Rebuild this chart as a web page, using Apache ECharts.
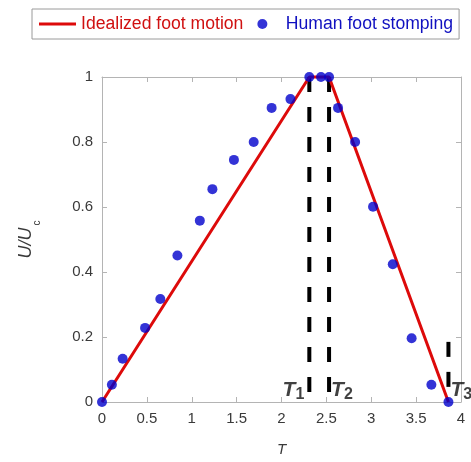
<!DOCTYPE html>
<html>
<head>
<meta charset="utf-8">
<script src="https://cdn.jsdelivr.net/npm/echarts@6/dist/echarts.min.js"></script>
<style>
  html, body { margin: 0; padding: 0; background: #fff; }
  #chart { width: 471px; height: 462px; }
</style>
</head>
<body>
<div id="chart"></div>
<script>
// measured stomping data (T, U/Uc)
var stompT = [0, 0.11, 0.23, 0.48, 0.65, 0.84, 1.09, 1.23, 1.47, 1.69, 1.89, 2.1, 2.31, 2.44, 2.53, 2.63, 2.82, 3.02, 3.24, 3.45, 3.67, 3.86];
var stompU = [0, 0.053, 0.133, 0.228, 0.317, 0.451, 0.558, 0.655, 0.745, 0.8, 0.905, 0.932, 1, 1, 1, 0.905, 0.8, 0.601, 0.424, 0.196, 0.053, 0];

// idealized trapezoid
var idealT = [0, 2.31, 2.53, 3.86];
var idealU = [0, 1, 1, 0];

// phase markers T1, T2, T3 (dashed lines from top value down to 0)
var phaseNames = ['1', '2', '3'];
var phaseT = [2.31, 2.53, 3.86];
var phaseTop = [1, 1, 0.185];

var xTicks = [0, 0.5, 1, 1.5, 2, 2.5, 3, 3.5, 4];
var yTicks = [0, 0.2, 0.4, 0.6, 0.8, 1];

var frameColor = '#b4b4b4';
var labelColor = '#3a3a3a';

function zip(a, b) {
  var out = [];
  for (var i = 0; i < a.length; i++) {
    out.push([a[i], b[i]]);
  }
  return out;
}

var chart = echarts.init(document.getElementById('chart'));

var series = [];

// dashed phase lines
for (var i = 0; i < phaseT.length; i++) {
  series.push({
    name: 'phase' + i,
    type: 'line',
    symbol: 'none',
    silent: true,
    clip: false,
    data: [[phaseT[i], phaseTop[i]], [phaseT[i], 0]],
    lineStyle: {
      color: '#000',
      width: 4,
      type: [15, 15],
      cap: 'butt'
    },
    z: 2
  });
}

series.push({
  name: 'Idealized foot motion',
  type: 'line',
  symbol: 'none',
  clip: false,
  data: zip(idealT, idealU),
  lineStyle: {
    color: '#dd0a0a',
    width: 3
  },
  itemStyle: { color: '#dd0a0a' },
  z: 3
});

series.push({
  name: 'Human foot stomping',
  type: 'scatter',
  symbol: 'circle',
  symbolSize: 10,
  clip: false,
  data: zip(stompT, stompU),
  itemStyle: { color: '#0000cc' },
  z: 4
});

// T1 / T2 / T3 labels
var labelData = [];
for (var j = 0; j < phaseT.length; j++) {
  labelData.push({
    value: [phaseT[j], 0],
    name: phaseNames[j],
    label: {
      position: j === 0 ? 'left' : 'right',
      distance: j === 0 ? 5 : 2
    }
  });
}
series.push({
  name: 'phaseLabels',
  type: 'scatter',
  symbolSize: 0,
  silent: true,
  clip: false,
  data: labelData,
  label: {
    show: true,
    offset: [0, -12],
    formatter: function (p) {
      return '{t|T}{s|' + p.name + '}';
    },
    rich: {
      t: {
        fontFamily: 'Liberation Sans, Arial',
        fontSize: 21,
        fontWeight: 'bold',
        fontStyle: 'italic',
        color: '#111'
      },
      s: {
        fontFamily: 'Liberation Sans, Arial',
        fontSize: 16,
        fontWeight: 'bold',
        color: '#111',
        padding: [10, 0, 0, 0]
      }
    }
  },
  z: 5
});

var option = {
  animation: false,
  backgroundColor: '#fff',
  legend: {
    left: 32,
    top: 9,
    padding: [6, 6, 6, 7],
    borderColor: '#9a9a9a',
    borderWidth: 1,
    itemWidth: 37,
    itemHeight: 10,
    itemGap: 14,
    textStyle: {
      fontFamily: 'Liberation Sans, Arial',
      fontSize: 17.6
    },
    data: [
      {
        name: 'Idealized foot motion',
        icon: 'path://M0,0 L37,0 L37,3 L0,3 Z',
        textStyle: { color: '#d01010' }
      },
      {
        name: 'Human foot stomping',
        icon: 'circle',
        textStyle: { color: '#1010c0' }
      }
    ]
  },
  grid: {
    left: 102,
    right: 10,
    top: 77,
    bottom: 54
  },
  xAxis: [
    {
      type: 'value',
      min: 0,
      max: 4,
      interval: 0.5,
      name: 'T',
      nameLocation: 'middle',
      nameGap: 40,
      nameTextStyle: {
        fontFamily: 'Liberation Sans, Arial',
        fontSize: 15,
        fontStyle: 'italic',
        color: labelColor
      },
      axisLine: { show: true, onZero: false, lineStyle: { color: frameColor } },
      axisTick: { show: true, inside: true, length: 5, lineStyle: { color: frameColor } },
      axisLabel: {
        margin: 9,
        fontFamily: 'Liberation Sans, Arial',
        fontSize: 15,
        color: labelColor,
        customValues: xTicks,
        formatter: function (v) { return String(v); }
      },
      splitLine: { show: false }
    },
    {
      type: 'value',
      position: 'top',
      min: 0,
      max: 4,
      interval: 0.5,
      axisLine: { show: true, onZero: false, lineStyle: { color: frameColor } },
      axisTick: { show: true, inside: true, length: 5, lineStyle: { color: frameColor } },
      axisLabel: { show: false },
      splitLine: { show: false }
    }
  ],
  yAxis: [
    {
      type: 'value',
      min: 0,
      max: 1,
      interval: 0.2,
      name: '{i|U/U}{s|c}',
      nameLocation: 'middle',
      nameGap: 60,
      nameRotate: 90,
      nameTextStyle: {
        rich: {
          i: {
            fontFamily: 'Liberation Sans, Arial',
            fontSize: 18,
            fontStyle: 'italic',
            color: labelColor
          },
          s: {
            fontFamily: 'Liberation Sans, Arial',
            fontSize: 10,
            color: labelColor,
            padding: [22, 0, 0, 2]
          }
        }
      },
      axisLine: { show: true, onZero: false, lineStyle: { color: frameColor } },
      axisTick: { show: true, inside: true, length: 5, lineStyle: { color: frameColor } },
      axisLabel: {
        margin: 9,
        fontFamily: 'Liberation Sans, Arial',
        fontSize: 15,
        color: labelColor,
        formatter: function (v) {
          return yTicks.indexOf(Math.round(v * 10) / 10) >= 0 ? String(Math.round(v * 10) / 10) : '';
        }
      },
      splitLine: { show: false }
    },
    {
      type: 'value',
      position: 'right',
      min: 0,
      max: 1,
      interval: 0.2,
      axisLine: { show: true, onZero: false, lineStyle: { color: frameColor } },
      axisTick: { show: true, inside: true, length: 5, lineStyle: { color: frameColor } },
      axisLabel: { show: false },
      splitLine: { show: false }
    }
  ],
  series: series
};

chart.setOption(option);
</script>
</body>
</html>
